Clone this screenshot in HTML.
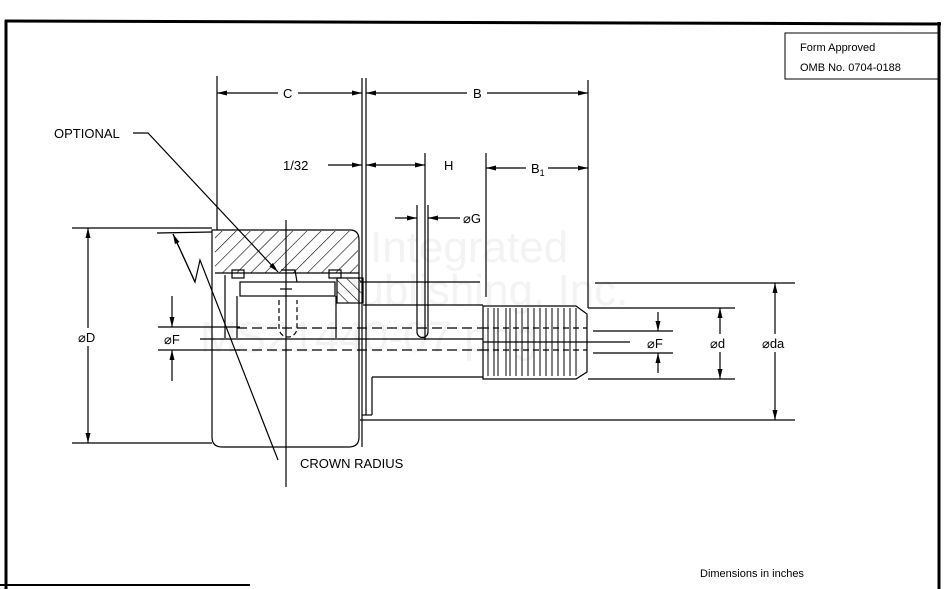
<!DOCTYPE html>
<html><head><style>
html,body{margin:0;padding:0;background:#fff;}
svg{display:block;}
text{font-family:"Liberation Sans",sans-serif;fill:#000;}
</style></head><body>
<svg width="947" height="589" viewBox="0 0 947 589" xmlns="http://www.w3.org/2000/svg">
<defs>
<pattern id="h1" width="10" height="10" patternUnits="userSpaceOnUse" patternTransform="rotate(45)"><line x1="0" y1="0" x2="0" y2="10" stroke="#000" stroke-width="1.2"/></pattern>
<pattern id="h2" width="8" height="8" patternUnits="userSpaceOnUse" patternTransform="rotate(-45)"><line x1="0" y1="0" x2="0" y2="8" stroke="#000" stroke-width="1.2"/></pattern>
<marker id="a" viewBox="0 0 10 6" refX="10" refY="3" markerWidth="10" markerHeight="6" orient="auto-start-reverse" markerUnits="userSpaceOnUse"><path d="M0,0.5 L10,3 L0,5.5 z" fill="#000"/></marker>
</defs>
<!-- watermark -->
<g font-size="44">
<text x="370" y="262" style="fill:#f3f3f3">Integrated</text>
<text x="330" y="305" style="fill:#f3f3f3">Publishing, Inc.</text>
<text x="200" y="352" style="fill:#f3f3f3">MS21440-07.png</text>
</g>
<!-- border -->
<g stroke="#000" fill="none">
<line x1="5" y1="21" x2="941" y2="24" stroke-width="3"/>
<line x1="6" y1="20" x2="6" y2="589" stroke-width="3"/>
<line x1="939" y1="22" x2="939" y2="589" stroke-width="3"/>
<line x1="0" y1="585" x2="250" y2="585" stroke-width="2"/>
<rect x="785" y="33" width="154" height="46" stroke-width="1"/>
</g>
<text x="800" y="51" font-size="11">Form Approved</text>
<text x="800" y="71" font-size="11">OMB No. 0704-0188</text>
<text x="700" y="577" font-size="11">Dimensions in inches</text>

<g stroke="#000" stroke-width="1.2" fill="none">
<line x1="217" y1="76" x2="217" y2="230"/>
<line x1="362" y1="78" x2="362" y2="447"/>
<line x1="366" y1="78" x2="366" y2="415"/>
<line x1="588" y1="80" x2="588" y2="308"/>
<line x1="486" y1="153" x2="486" y2="297"/>
<line x1="425" y1="153" x2="425" y2="340"/>
<line x1="217" y1="93" x2="362" y2="93" marker-start="url(#a)" marker-end="url(#a)"/>
<line x1="366" y1="93" x2="588" y2="93" marker-start="url(#a)" marker-end="url(#a)"/>
<line x1="328" y1="165" x2="362" y2="165" marker-end="url(#a)"/>
<line x1="366" y1="165" x2="425" y2="165" marker-start="url(#a)" marker-end="url(#a)"/>
<line x1="486" y1="168" x2="588" y2="168" marker-start="url(#a)" marker-end="url(#a)"/>
<line x1="395" y1="218" x2="417" y2="218" marker-end="url(#a)"/>
<line x1="460" y1="218" x2="428" y2="218" marker-end="url(#a)"/>
<line x1="417" y1="205" x2="417" y2="332"/>
<path d="M428,205 L428,332 A5.5,5.5 0 0 1 417,332"/>
<line x1="72" y1="228" x2="212" y2="228"/>
<line x1="72" y1="443" x2="212" y2="443"/>
<line x1="88" y1="228" x2="88" y2="443" marker-start="url(#a)" marker-end="url(#a)"/>
<line x1="158" y1="327" x2="240" y2="327"/>
<line x1="158" y1="350" x2="240" y2="350"/>
<line x1="172" y1="296" x2="172" y2="327" marker-end="url(#a)"/>
<line x1="172" y1="381" x2="172" y2="350" marker-end="url(#a)"/>
<path d="M212,230 L350,230 Q359,230 359,240 L359,437 Q359,447 349,447 L222,447 Q212,447 212,437 Z"/>
<rect x="215" y="231" width="143" height="42" fill="url(#h1)" stroke="none"/>
<path d="M215,273 L359,273"/>
<rect x="337" y="278" width="26" height="25" fill="url(#h2)"/>
<rect x="240" y="282" width="95" height="14"/>
<rect x="232" y="270" width="12" height="8"/>
<rect x="329" y="270" width="12" height="8"/>
<line x1="237" y1="296" x2="237" y2="338"/>
<line x1="336" y1="296" x2="336" y2="338"/>
<line x1="225" y1="275" x2="225" y2="338"/>
<path d="M279,300 L279,328 A9,9 0 0 0 297,328 L297,300" stroke-dasharray="5,3"/>
<path d="M281,270 L295,270 L297,282"/>
<line x1="237" y1="328" x2="483" y2="328" stroke-dasharray="10,5"/>
<line x1="237" y1="350" x2="483" y2="350" stroke-dasharray="10,5"/>
<line x1="200" y1="339" x2="483" y2="339"/>
<line x1="286" y1="220" x2="286" y2="487"/>
<line x1="280" y1="289" x2="292" y2="289"/>
<line x1="363" y1="305" x2="483" y2="305"/>
<line x1="372" y1="377" x2="483" y2="377"/>
<line x1="362" y1="415" x2="372" y2="415"/>
<line x1="372" y1="415" x2="372" y2="377"/>
<line x1="360" y1="282" x2="480" y2="282"/>
<path d="M483,306 L576,306 L587,314 L587,372 L576,379 L483,379 Z"/>
<g stroke-width="1">
<path d="M488,308 v68 M494,308 v68 M498,308 v68 M506,308 v68 M510,308 v68 M516,308 v68 M522,308 v68 M528,308 v68 M534,308 v68 M540,308 v68 M546,308 v68 M552,308 v68 M558,308 v68 M564,308 v68 M570,308 v68 M576,308 v68"/>
</g>
<line x1="483" y1="328" x2="587" y2="328" stroke-dasharray="6,4"/>
<line x1="483" y1="350" x2="587" y2="350" stroke-dasharray="6,4"/>
<line x1="483" y1="342" x2="600" y2="342"/>
<line x1="595" y1="283" x2="795" y2="283"/>
<line x1="360" y1="420" x2="795" y2="420"/>
<line x1="588" y1="308" x2="735" y2="308"/>
<line x1="588" y1="379" x2="735" y2="379"/>
<line x1="593" y1="331" x2="673" y2="331"/>
<line x1="593" y1="353" x2="673" y2="353"/>
<line x1="600" y1="342" x2="630" y2="342"/>
<line x1="658" y1="312" x2="658" y2="331" marker-end="url(#a)"/>
<line x1="658" y1="373" x2="658" y2="353" marker-end="url(#a)"/>
<line x1="720" y1="308" x2="720" y2="379" marker-start="url(#a)" marker-end="url(#a)"/>
<line x1="775" y1="283" x2="775" y2="420" marker-start="url(#a)" marker-end="url(#a)"/>
<polyline points="133,133 148,133 278,272" marker-end="url(#a)"/>
<line x1="157" y1="233" x2="212" y2="232"/>
<polyline points="173,234 195,282 200,260 278,460" />
<line x1="195" y1="282" x2="173" y2="234" marker-end="url(#a)"/>
</g>
<g fill="#fff" stroke="none">
<rect x="278" y="85" width="20" height="16"/>
<rect x="467" y="85" width="20" height="16"/>
<rect x="440" y="157" width="16" height="16"/>
<rect x="526" y="160" width="22" height="18"/>
<rect x="76" y="328" width="24" height="18"/>
<rect x="645" y="334" width="24" height="18"/>
<rect x="708" y="334" width="24" height="18"/>
<rect x="760" y="334" width="30" height="18"/>
</g>
<g font-size="13">
<text x="54" y="138">OPTIONAL</text>
<text x="283" y="98">C</text>
<text x="473" y="98">B</text>
<text x="283" y="170">1/32</text>
<text x="444" y="170">H</text>
<text x="531" y="173">B<tspan font-size="9" dy="3">1</tspan></text>
<text x="463" y="223">⌀G</text>
<text x="78" y="342">⌀D</text>
<text x="164" y="344">⌀F</text>
<text x="647" y="348">⌀F</text>
<text x="710" y="348">⌀d</text>
<text x="762" y="348">⌀da</text>
<text x="300" y="468">CROWN RADIUS</text>
</g>
</svg>
</body></html>
